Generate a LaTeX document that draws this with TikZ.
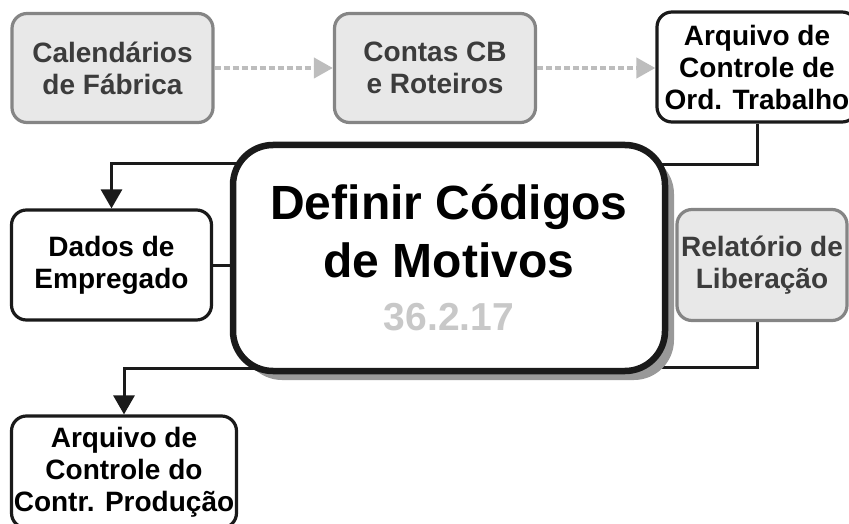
\documentclass[tikz,border=0pt]{standalone}
\usepackage{fontspec}
\setmainfont{Liberation Sans}
\usepackage{xcolor}
\usetikzlibrary{
    arrows.meta,
    positioning,
    backgrounds,
    shadows
}
\definecolor{ink}{HTML}{1A1A1A}
\definecolor{softfill}{HTML}{E8E8E8}
\definecolor{softline}{HTML}{858585}
\definecolor{softtext}{HTML}{3C3C3C}
\definecolor{dotline}{HTML}{BDBDBD}
\definecolor{codegray}{HTML}{C8C8C8}
\definecolor{shadowgray}{HTML}{999999}
\tikzset{
    % Light (previous step) box
    prevbox/.style={
        rectangle,
        rounded corners=15pt,
        minimum width=201pt,
        minimum height=109pt,
        inner sep=0pt,
        align=center,
        font=\bfseries\fontsize{28}{32}\selectfont,
        text=softtext,
        draw=softline,
        fill=softfill,
        line width=3.2pt
    },
    % Data file box
    filebox/.style={
        rectangle,
        rounded corners=15pt,
        minimum width=200pt,
        minimum height=110pt,
        inner sep=0pt,
        align=center,
        font=\bfseries\fontsize{28}{32}\selectfont,
        text=black,
        draw=ink,
        fill=white,
        line width=3.2pt
    },
    % Central task box
    taskbox/.style={
        rectangle,
        rounded corners=40pt,
        minimum width=432pt,
        minimum height=226pt,
        inner sep=0pt,
        align=center,
        font=\bfseries\fontsize{48}{58}\selectfont,
        draw=ink,
        fill=white,
        line width=6.5pt,
        drop shadow={shadow xshift=9pt, shadow yshift=-9pt, fill=shadowgray, opacity=1}
    },
    % Arrow styles
    link/.style={
        line width=3pt,
        color=ink
    },
    flow/.style={
        link,
        -{Triangle[length=19pt, width=21pt]}
    },
    dotflow/.style={
        -{Triangle[length=19pt, width=20pt]},
        line width=4pt,
        dash pattern=on 6pt off 3pt,
        color=dotline
    }
}

\begin{document}
\begin{tikzpicture}[x=1pt, y=-1pt]
        \useasboundingbox (0,0) rectangle (849,524);

        % Top row
        \node[prevbox] (calend) at (112.5, 68) {Calendários\\de Fábrica};
        \node[prevbox] (contas) at (435, 68) {Contas CB\\e Roteiros};
        \node[filebox, minimum width=200pt] (ordtrab) at (757, 67) {Arquivo de\\Controle de\\Ord. Trabalho};

        % Central task
        \node[taskbox] (task) at (449, 258) {Definir Códigos\\de Motivos\\[-5pt]\fontsize{39}{46}\selectfont\color{codegray}36.2.17};

        % Side boxes
        \node[filebox] (dados) at (111.5, 265) {Dados de\\Empregado};
        \node[prevbox, minimum width=170pt, minimum height=111pt] (relat) at (762, 265) {Relatório de\\Liberação};
        \node[filebox, minimum width=225pt, minimum height=112pt] (prod) at (124, 472) {Arquivo de\\Controle do\\Contr. Produção};

        % Turning points behind the task box
        \coordinate (inTop) at (600, 165);
        \coordinate (inBot) at (600, 367);
        \coordinate (outTop) at (300, 164);
        \coordinate (outBot) at (300, 368);

        % Previous steps
        \draw[dotflow] (calend.east) -- (contas.west);
        \draw[dotflow] (contas.east) -- (contas.east -| ordtrab.west);

        % Connectors
        \begin{scope}[on background layer]
            \draw[link] (ordtrab.south) |- (inTop);
            \draw[link] (relat.south -| ordtrab.south) |- (inBot);
            \draw[flow] (outTop) -| (dados.north);
            \draw[link] (dados.east) -- (task.west |- dados.east);
            \draw[flow] (outBot) -| (prod.north);
        \end{scope}

    \end{tikzpicture}
\end{document}
